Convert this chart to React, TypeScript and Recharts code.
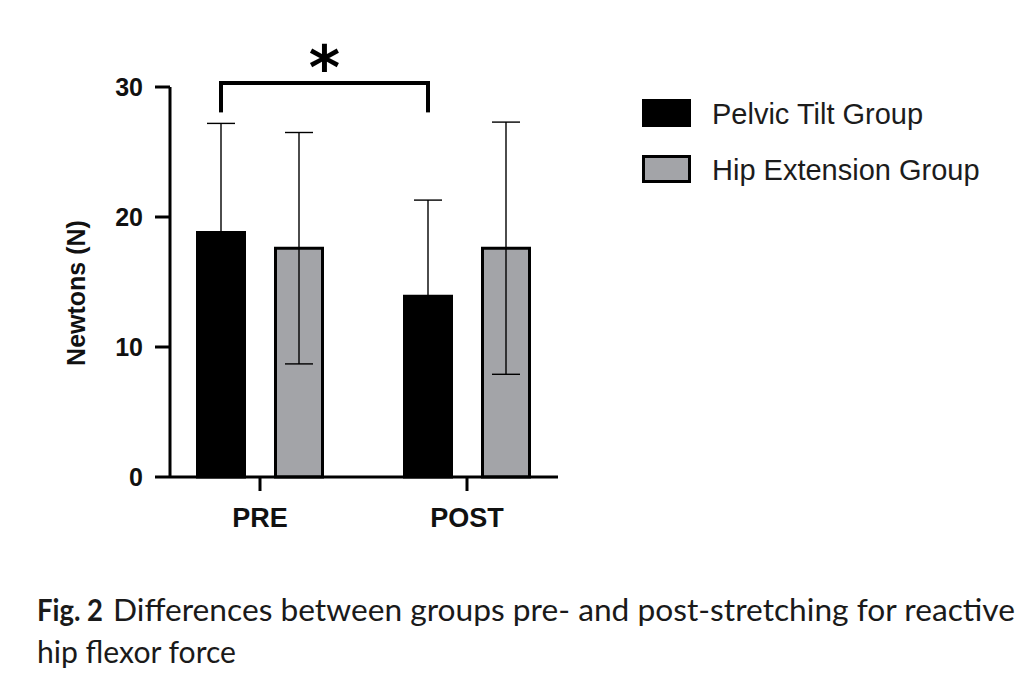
import { BarChart, Bar, XAxis, YAxis, ErrorBar, ReferenceLine, Legend } from 'recharts'

const phases = ['PRE', 'POST']
const seriesNames = ['Pelvic Tilt Group', 'Hip Extension Group']
const pelvicTilt = [18.8, 13.9]
const pelvicTiltSd = [8.4, 7.4]
const hipExtension = [17.6, 17.6]
const hipExtensionSd = [8.9, 9.7]
const yTicks = [0, 10, 20, 30]

const data = phases.map((phase, i) => ({
  phase,
  pelvic: pelvicTilt[i],
  pelvicSd: pelvicTiltSd[i],
  hip: hipExtension[i],
  hipSd: hipExtensionSd[i],
}))

const F = '"Liberation Sans", Arial, sans-serif'
const W = 1036
const H = 696
const PLOT_LEFT = 170
const PLOT_RIGHT = 558
const PLOT_TOP = 87
const PLOT_BOTTOM = 477
// bands sit slightly wider than the drawn axis
const PAD = { left: -13.5, right: -12.5 }
const BAR_SIZE = 47
const BAR_GAP = 31
const BAND = (PLOT_RIGHT - PLOT_LEFT - PAD.left - PAD.right) / phases.length

// pelvic bar centre on a 0..1 axis spanning both bands
const pelvicOffset = 0.5 - (BAR_SIZE + BAR_GAP) / 2 / BAND
const sigFrom = (0 + pelvicOffset) / phases.length
const sigTo = (1 + pelvicOffset) / phases.length
const SIG_TOP = 30.3
const SIG_LEG = 28.2

type LegendItem = { value: string; color?: string }

function GroupLegend({ payload }: { payload?: LegendItem[] }) {
  const items = [...(payload ?? [])].sort(
    (a, b) => seriesNames.indexOf(a.value) - seriesNames.indexOf(b.value),
  )
  return (
    <svg width={380} height={110} style={{ display: 'block' }}>
      {items.map((p, i) => (
        <g key={p.value} transform={`translate(0, ${i * 56})`}>
          <rect x={1.5} y={1.5} width={46} height={25} fill={p.color} stroke="#000" strokeWidth={3} />
          <text x={70} y={25} fontFamily={F} fontSize={29} fill="#1c1c1c">{p.value}</text>
        </g>
      ))}
    </svg>
  )
}

function YLabel({ viewBox }: { viewBox?: { x: number; y: number; width: number; height: number } }) {
  if (!viewBox) return null
  const cx = 85
  const cy = viewBox.y + viewBox.height / 2 + 11
  return (
    <text x={cx} y={cy} transform={`rotate(-90, ${cx}, ${cy})`} textAnchor="middle"
      fontFamily={F} fontWeight={700} fontSize={25} fill="#111">
      Newtons (N)
    </text>
  )
}

const bracketLine = {
  xAxisId: 'sig',
  ifOverflow: 'visible' as const,
  stroke: '#000',
  strokeWidth: 4,
  strokeLinecap: 'square' as const,
}

export default function App() {
  return (
    <div style={{ position: 'absolute', left: 0, top: 0, width: W, height: H, background: '#fff' }}>
      <BarChart
        width={W}
        height={H}
        data={data}
        margin={{ top: PLOT_TOP, right: W - PLOT_RIGHT, bottom: H - PLOT_BOTTOM - 60, left: 0 }}
        barSize={BAR_SIZE}
        barGap={BAR_GAP}
      >
        <XAxis
          dataKey="phase"
          padding={PAD}
          height={60}
          axisLine={{ stroke: '#000', strokeWidth: 3 }}
          tickLine={{ stroke: '#000', strokeWidth: 3 }}
          tickSize={14}
          tickMargin={17}
          tick={{ fontFamily: F, fontWeight: 700, fontSize: 27, fill: '#111' }}
        />
        <XAxis
          xAxisId="sig"
          type="number"
          domain={[0, 1]}
          allowDataOverflow
          padding={PAD}
          hide
        />
        <YAxis
          width={PLOT_LEFT}
          domain={[0, 30]}
          ticks={yTicks}
          axisLine={{ stroke: '#000', strokeWidth: 3 }}
          tickLine={{ stroke: '#000', strokeWidth: 3 }}
          tickSize={15}
          tickMargin={12}
          tick={{ fontFamily: F, fontWeight: 700, fontSize: 25, fill: '#111' }}
          label={<YLabel />}
        />
        <Legend
          layout="vertical"
          align="center"
          verticalAlign="middle"
          wrapperStyle={{ left: 642, top: 99, width: 380 }}
          content={<GroupLegend />}
        />
        <Bar dataKey="pelvic" name={seriesNames[0]} fill="#000" stroke="#000" strokeWidth={3} isAnimationActive={false}>
          <ErrorBar dataKey="pelvicSd" width={14} stroke="#000" strokeWidth={1.4} isAnimationActive={false} />
        </Bar>
        <Bar dataKey="hip" name={seriesNames[1]} fill="#a3a4a8" stroke="#000" strokeWidth={3} isAnimationActive={false}>
          <ErrorBar dataKey="hipSd" width={14} stroke="#000" strokeWidth={1.4} isAnimationActive={false} />
        </Bar>
        <ReferenceLine
          {...bracketLine}
          segment={[{ x: sigFrom, y: SIG_TOP }, { x: sigTo, y: SIG_TOP }]}
          label={{ value: '*', position: 'top', offset: -6, fontSize: 60, fontWeight: 700, fontFamily: '"DejaVu Sans", sans-serif', fill: '#000' }}
        />
        <ReferenceLine {...bracketLine} segment={[{ x: sigFrom, y: SIG_TOP }, { x: sigFrom, y: SIG_LEG }]} />
        <ReferenceLine {...bracketLine} segment={[{ x: sigTo, y: SIG_TOP }, { x: sigTo, y: SIG_LEG }]} />
      </BarChart>
      <svg width={W} height={110} style={{ position: 'absolute', left: 0, top: 580 }}>
        <g fontFamily="Lato, sans-serif" fontSize={31} fill="#1a1a1a">
          <text x={37} y={41} fontWeight={700} textLength={66} lengthAdjust="spacingAndGlyphs">Fig. 2</text>
          <text x={113} y={41} textLength={902} lengthAdjust="spacingAndGlyphs">
            Differences between groups pre- and post-stretching for reactive
          </text>
          <text x={37} y={83} textLength={199} lengthAdjust="spacingAndGlyphs">hip flexor force</text>
        </g>
      </svg>
    </div>
  )
}
